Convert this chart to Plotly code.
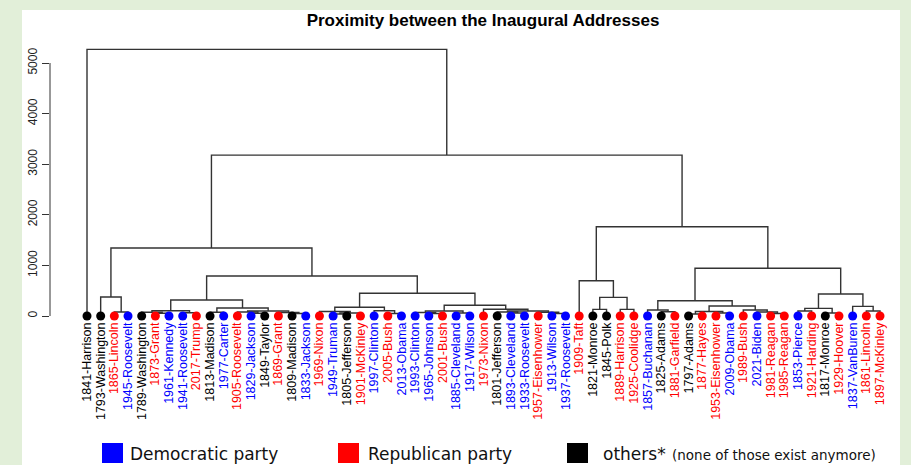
import plotly.graph_objects as go

# leaves in dendrogram order
labels = ["1841-Harrison", "1793-Washington", "1865-Lincoln", "1945-Roosevelt", "1789-Washington",
          "1873-Grant", "1961-Kennedy", "1941-Roosevelt", "2017-Trump", "1813-Madison",
          "1977-Carter", "1905-Roosevelt", "1829-Jackson", "1849-Taylor", "1869-Grant",
          "1809-Madison", "1833-Jackson", "1969-Nixon", "1949-Truman", "1805-Jefferson",
          "1901-McKinley", "1997-Clinton", "2005-Bush", "2013-Obama", "1993-Clinton",
          "1965-Johnson", "2001-Bush", "1885-Cleveland", "1917-Wilson", "1973-Nixon",
          "1801-Jefferson", "1893-Cleveland", "1933-Roosevelt", "1957-Eisenhower", "1913-Wilson",
          "1937-Roosevelt", "1909-Taft", "1821-Monroe", "1845-Polk", "1889-Harrison",
          "1925-Coolidge", "1857-Buchanan", "1825-Adams", "1881-Garfield", "1797-Adams",
          "1877-Hayes", "1953-Eisenhower", "2009-Obama", "1989-Bush", "2021-Biden",
          "1981-Reagan", "1985-Reagan", "1853-Pierce", "1921-Harding", "1817-Monroe",
          "1929-Hoover", "1837-VanBuren", "1861-Lincoln", "1897-McKinley"]
parties = ["O", "O", "R", "D", "O", "R", "D", "D", "R", "O",
           "D", "R", "D", "O", "R", "O", "D", "R", "D", "O",
           "R", "D", "R", "D", "D", "D", "R", "D", "D", "R",
           "O", "D", "D", "R", "D", "D", "R", "O", "O", "R",
           "R", "D", "O", "R", "O", "R", "R", "D", "R", "D",
           "R", "R", "D", "R", "O", "R", "D", "R", "R"]
party_colors = {"D": "#0000ff", "R": "#ff0000", "O": "#000000"}

# merge table (R style): negative = leaf position, positive = earlier merge row
merges = [
    (-3, -4, 80), (-2, 1, 375), (-6, -7, 55), (-5, 3, 75), (-8, -9, 65),
    (4, 5, 105), (-10, -11, 73), (-13, -14, 55), (-12, 8, 80), (-16, -17, 50),
    (-15, 10, 70), (9, 11, 100), (7, 12, 158), (6, 13, 316), (-19, -20, 40),
    (15, -21, 60), (-18, 16, 90), (-23, -24, 50), (-22, 18, 105), (17, 19, 172),
    (-26, -27, 50), (-25, 21, 70), (-28, -29, 60), (22, 23, 99), (-32, -33, 60),
    (-31, 25, 80), (-35, -36, 50), (-34, 27, 75), (26, 28, 100), (-30, 29, 132),
    (24, 30, 211), (20, 31, 449), (14, 32, 790), (2, 33, 1345),
    (-38, -39, 130), (-40, -41, 130), (35, 36, 369), (-37, 37, 698), (-43, -44, 85),
    (-42, 39, 118), (-45, -46, 40), (-47, -48, 60), (41, 42, 90), (-51, -52, 50),
    (-50, 44, 80), (-49, 45, 120), (43, 46, 198), (40, 47, 302), (-53, -54, 100),
    (-55, -56, 60), (49, 50, 150), (-58, -59, 100), (-57, 52, 190), (51, 53, 435),
    (48, 54, 943), (38, 55, 1765), (34, 56, 3180), (-1, 57, 5270),
]
y_ticks = [0, 1000, 2000, 3000, 4000, 5000]

W, H = 911, 465
pl, pr, pt, pb = 50, 897, 40, 319

node_x, node_h = {}, {}


def pos(ref):
    if ref < 0:
        return -ref, 0
    return node_x[ref], node_h[ref]


lx, ly = [], []
for k, (a, b, h) in enumerate(merges, start=1):
    xa, ha = pos(a)
    xb, hb = pos(b)
    lx += [xa, xa, xb, xb, None]
    ly += [ha, h, h, hb, None]
    node_x[k] = (xa + xb) / 2
    node_h[k] = h

n = len(labels)
leaf_x = list(range(1, n + 1))

fig = go.Figure()
fig.add_trace(go.Scatter(x=lx, y=ly, mode="lines", line=dict(color="#333333", width=1.4),
                         hoverinfo="skip", showlegend=False))
fig.add_trace(go.Scatter(x=leaf_x, y=[0] * n, mode="markers", cliponaxis=False,
                         marker=dict(size=9, color=[party_colors[p] for p in parties]),
                         text=labels, hoverinfo="text", showlegend=False))

unit = (880 - 87) / (n - 1)
x_range = [1 - (87 - pl) / unit, n + (pr - 880) / unit]
ppu = (316 - 63) / 5000
y_range = [-(pb - 316) / ppu, (316 - pt) / ppu]


def px_x(p):
    return (p - pl) / (pr - pl)


def px_y(p):
    return (pb - p) / (pb - pt)


shapes = [
    dict(type="rect", xref="paper", yref="paper", x0=px_x(22), x1=px_x(900), y0=px_y(466), y1=px_y(10),
         fillcolor="white", line=dict(width=0), layer="below"),
    dict(type="line", xref="paper", yref="y", x0=0, x1=0, y0=0, y1=5000,
         line=dict(color="#333333", width=1)),
]
annotations = []
legend_items = [("Democratic party", "#0000ff", 102, 128),
                ("Republican party", "#ff0000", 338, 366),
                ("others*", "#000000", 567, 601)]
for text, col, sq, tx in legend_items:
    shapes.append(dict(type="rect", xref="paper", yref="paper", x0=px_x(sq), x1=px_x(sq + 21),
                       y0=px_y(463), y1=px_y(443), fillcolor=col, line=dict(width=0)))
    annotations.append(dict(xref="paper", yref="paper", x=px_x(tx), y=px_y(454), text=text,
                            showarrow=False, xanchor="left", yanchor="middle",
                            font=dict(family="DejaVu Sans", size=17, color="#111111")))
annotations.append(dict(xref="paper", yref="paper", x=px_x(670), y=px_y(455),
                        text="(none of those exist anymore)", showarrow=False,
                        xanchor="left", yanchor="middle",
                        font=dict(family="DejaVu Sans", size=13.5, color="#111111")))

fig.update_layout(
    width=W, height=H,
    margin=dict(l=pl, r=W - pr, t=pt, b=H - pb),
    paper_bgcolor="#e2efd9",
    plot_bgcolor="white",
    title=dict(text="<b>Proximity between the Inaugural Addresses</b>", x=483 / W, xref="container",
               xanchor="center", y=1 - 20 / H, yref="container", yanchor="middle",
               font=dict(family="Liberation Sans", size=17, color="black")),
    shapes=shapes,
    annotations=annotations,
    showlegend=False,
)
fig.update_xaxes(range=x_range, tickvals=leaf_x, automargin=False,
                 ticktext=[f'<span style="color:{party_colors[p]}">{t}</span>' for t, p in zip(labels, parties)],
                 tickangle=-90, tickfont=dict(family="Liberation Sans", size=12.5),
                 showgrid=False, zeroline=False, showline=False, ticks="")
fig.update_yaxes(range=y_range, tickvals=y_ticks, ticktext=[str(v) for v in y_ticks], automargin=False,
                 tickangle=-90, ticks="outside", ticklen=7, tickcolor="#333333",
                 tickfont=dict(family="Liberation Sans", size=12, color="#222222"),
                 showgrid=False, zeroline=False, showline=False)

fig.write_html("out.html", config={"displayModeBar": False},
               post_script="document.body.style.margin='0';")
